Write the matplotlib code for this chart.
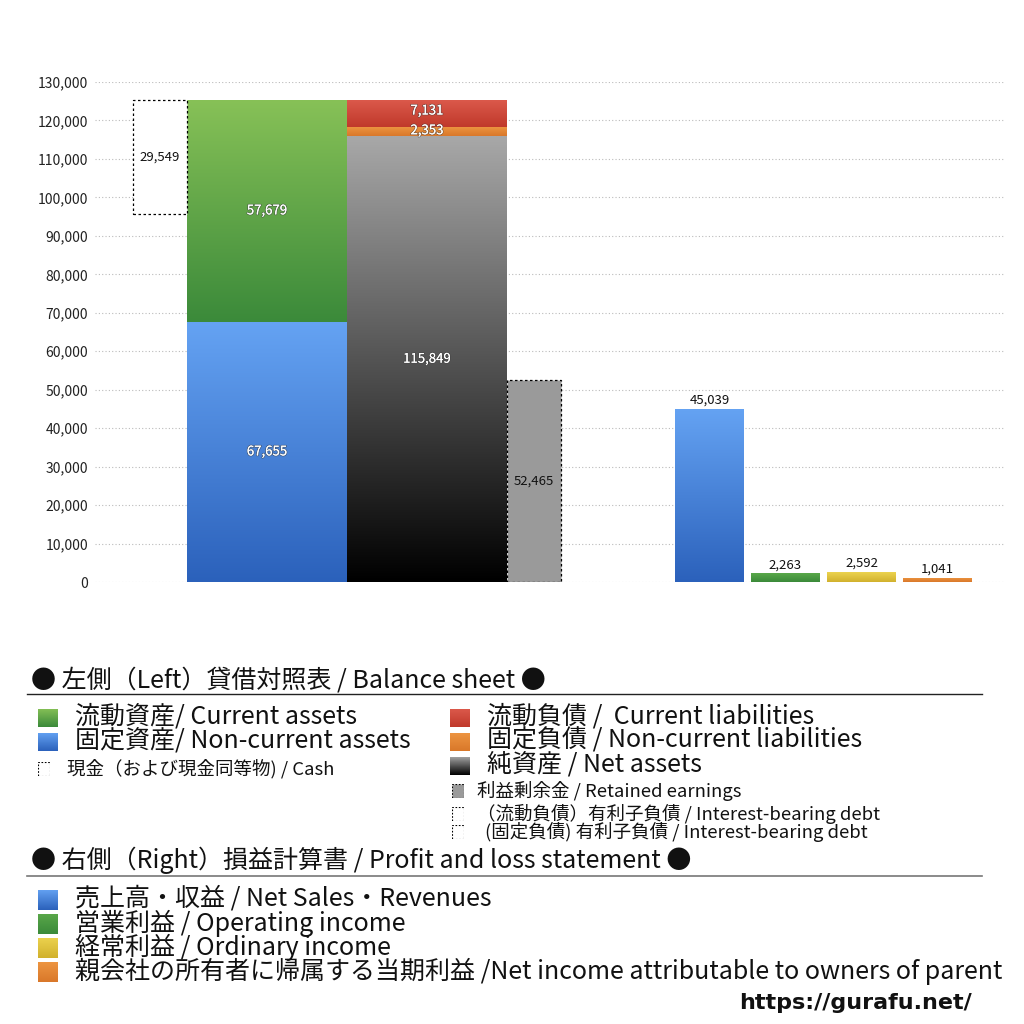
import numpy as np
import matplotlib
matplotlib.use("Agg")
import matplotlib.pyplot as plt
import matplotlib.patheffects as pe
from matplotlib.colors import LinearSegmentedColormap
from matplotlib.patches import Rectangle

plt.rcParams['font.family'] = ['Noto Sans CJK JP', 'DejaVu Sans']

# ---------------- data ----------------
current_assets = 57679
noncurrent_assets = 67655
cash = 29549
current_liabilities = 7131
noncurrent_liabilities = 2353
net_assets = 115849
retained_earnings = 52465
pl_labels = ["売上高・収益", "営業利益", "経常利益", "当期利益"]
pl_values = [45039, 2263, 2592, 1041]
yticks = list(range(0, 130001, 10000))

# ---------------- layout ----------------
W = H = 1024
fig = plt.figure(figsize=(10.24, 10.24), dpi=100)
ax = fig.add_axes([95 / W, 1 - 582 / H, 910 / W, 500 / H])
ax.set_xlim(0, 910)
ax.set_ylim(0, 130000)
for s in ax.spines.values():
    s.set_visible(False)
ax.set_xticks([])
ax.set_yticks(yticks)
ax.set_yticklabels([f"{v:,}" for v in yticks], fontsize=10, color="#222222")
ax.tick_params(axis='y', length=0, pad=5)
ax.yaxis.grid(True, linestyle=(0, (1, 2)), color="#bbbbbb", linewidth=0.8)
ax.set_axisbelow(True)


def grad_bar(x, w, bottom, height, top_c, bot_c):
    bars = ax.bar([x], [height], width=w, bottom=[bottom], align='edge',
                  facecolor='none', edgecolor='none', zorder=2)
    p = bars[0]
    cmap = LinearSegmentedColormap.from_list("g", [bot_c, top_c])
    grad = np.linspace(0, 1, 256).reshape(-1, 1)
    im = ax.imshow(grad, extent=[x, x + w, bottom, bottom + height], origin='lower',
                   aspect='auto', cmap=cmap, zorder=2, interpolation='bilinear')
    im.set_clip_path(p)
    return p


shadow = [pe.withStroke(linewidth=1.2, foreground='#444444', alpha=0.6), pe.Normal()]
lab_fs = 9.5

# Left: balance sheet
grad_bar(92, 160, 0, noncurrent_assets, "#65a3f3", "#2b61bb")
grad_bar(92, 160, noncurrent_assets, current_assets, "#87c157", "#3b8a3a")
ax.text(172, noncurrent_assets / 2, f"{noncurrent_assets:,}", ha='center', va='center',
        color='white', fontsize=lab_fs, path_effects=shadow, zorder=5)
ax.text(172, noncurrent_assets + current_assets / 2, f"{current_assets:,}", ha='center', va='center',
        color='white', fontsize=lab_fs, path_effects=shadow, zorder=5)

total_assets = noncurrent_assets + current_assets
ax.bar([38], [cash], width=54, bottom=[total_assets - cash], align='edge', facecolor='white',
       edgecolor='black', linestyle=(0, (2, 2)), linewidth=0.9, zorder=2)
ax.text(65, total_assets - cash / 2, f"{cash:,}", ha='center', va='center', fontsize=lab_fs,
        color='#111111', zorder=5)

grad_bar(252, 160, 0, net_assets, "#a8a8a8", "#000000")
grad_bar(252, 160, net_assets, noncurrent_liabilities, "#ee9642", "#d9782a")
grad_bar(252, 160, net_assets + noncurrent_liabilities, current_liabilities, "#dc5a4c", "#c0392b")
ax.text(332, net_assets / 2, f"{net_assets:,}", ha='center', va='center',
        color='white', fontsize=lab_fs, path_effects=shadow, zorder=5)
ax.text(332, net_assets + noncurrent_liabilities / 2 + 300, f"{noncurrent_liabilities:,}", ha='center',
        va='center', color='white', fontsize=lab_fs, path_effects=shadow, zorder=5)
ax.text(332, net_assets + noncurrent_liabilities + current_liabilities / 2 + 700,
        f"{current_liabilities:,}", ha='center', va='center', color='white', fontsize=lab_fs,
        path_effects=shadow, zorder=5)

ax.bar([412], [retained_earnings], width=54, bottom=[0], align='edge', facecolor='#9a9a9a',
       edgecolor='black', linestyle=(0, (2, 2)), linewidth=0.9, zorder=2)
ax.text(439, retained_earnings / 2, f"{retained_earnings:,}", ha='center', va='center',
        fontsize=lab_fs, color='#111111', zorder=5)

# Right: P&L
pl_x = [580, 656, 732, 808]
pl_cols = [("#65a3f3", "#2b61bb"), ("#5aa84a", "#3b8a3a"), ("#ecd34f", "#d1b12d"),
           ("#ee9642", "#d9782a")]
for x, v, (tc, bc) in zip(pl_x, pl_values, pl_cols):
    grad_bar(x, 69, 0, v, tc, bc)
    ax.text(x + 34.5, v + 500, f"{v:,}", ha='center', va='bottom', fontsize=lab_fs,
            color='#111111', zorder=5)

ax.set_xlim(0, 910)
ax.set_ylim(0, 130000)


# ---------------- legend (figure coords in pixels) ----------------
def fy(py):
    return 1 - py / H


def fx(px):
    return px / W


def txt(px, py, s, size, **kw):
    fig.text(fx(px), fy(py), s, fontsize=size, va='center', ha='left', color='#111111', **kw)


def square(px, py, w, h, colors=None, face=None, dashed=False):
    axs = fig.add_axes([fx(px), fy(py + h / 2), w / W, h / H])
    axs.axis('off')
    if colors is not None:
        cmap = LinearSegmentedColormap.from_list("g", [colors[1], colors[0]])
        axs.imshow(np.linspace(0, 1, 64).reshape(-1, 1), extent=[0, 1, 0, 1], origin='lower',
                   aspect='auto', cmap=cmap)
    if face is not None or dashed:
        axs.add_patch(Rectangle((0.03, 0.03), 0.94, 0.94, facecolor=face if face else 'white',
                                edgecolor='black' if dashed else 'none',
                                linestyle=(0, (1.5, 1.5)), linewidth=0.8))
    axs.set_xlim(0, 1)
    axs.set_ylim(0, 1)


big = 18
small = 13.3
txt(31, 680, "● 左側（Left）貸借対照表 / Balance sheet ●", big)
fig.add_artist(plt.Line2D([fx(27), fx(982)], [fy(694), fy(694)], color='#222222', linewidth=1.0))

square(38, 718, 20, 19, colors=("#87c157", "#3b8a3a"))
txt(75, 717, "流動資産/ Current assets", big)
square(38, 742, 20, 19, colors=("#65a3f3", "#2b61bb"))
txt(75, 741, "固定資産/ Non-current assets", big)
square(38, 769, 12, 14, dashed=True)
txt(67, 769, "現金（および現金同等物) / Cash", small)

square(450, 718, 20, 19, colors=("#dc5a4c", "#c0392b"))
txt(487, 717, "流動負債 /  Current liabilities", big)
square(450, 742, 20, 19, colors=("#ee9642", "#d9782a"))
txt(487, 741, "固定負債 / Non-current liabilities", big)
square(450, 766, 20, 19, colors=("#a8a8a8", "#000000"))
txt(487, 765, "純資産 / Net assets", big)
square(452, 791, 12, 14, face="#9a9a9a", dashed=True)
txt(477, 791, "利益剰余金 / Retained earnings", small)
square(452, 814, 12, 14, dashed=True)
txt(477, 814, "（流動負債）有利子負債 / Interest-bearing debt", small)
square(452, 832, 12, 14, dashed=True)
txt(485, 832, "(固定負債) 有利子負債 / Interest-bearing debt", small)

txt(31, 860, "● 右側（Right）損益計算書 / Profit and loss statement ●", big)
fig.add_artist(plt.Line2D([fx(27), fx(982)], [fy(876), fy(876)], color='#777777', linewidth=1.2))

pl_legend = ["売上高・収益 / Net Sales・Revenues", "営業利益 / Operating income",
             "経常利益 / Ordinary income",
             "親会社の所有者に帰属する当期利益 /Net income attributable to owners of parent"]
for i, (lab, (tc, bc)) in enumerate(zip(pl_legend, pl_cols)):
    py = 899 + 24 * i
    square(38, py + 1, 20, 21, colors=(tc, bc))
    txt(75, py, lab, big)

fig.text(fx(972), fy(1003), "https://gurafu.net/", fontsize=16, fontweight='bold',
         ha='right', va='center', color='#111111', family=['DejaVu Sans'])

fig.savefig("out.png", dpi=100, facecolor='white')
